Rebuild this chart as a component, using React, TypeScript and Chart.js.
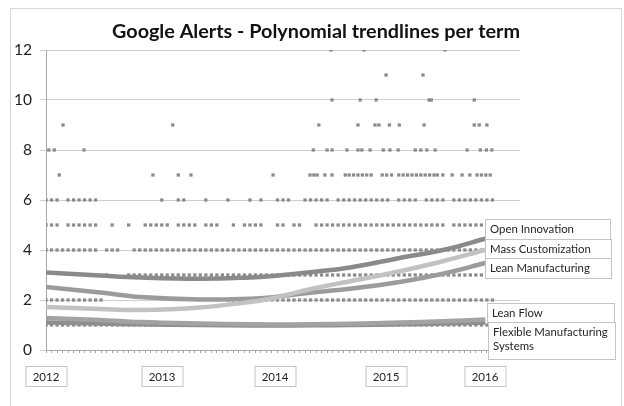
import { useEffect, useRef } from 'react';
import { Chart, registerables } from 'chart.js';

Chart.register(...registerables);

// ---- Data ----
const TITLE = 'Google Alerts - Polynomial trendlines per term';
const X_MIN = 0;
const X_MAX = 86;
const Y_MIN = 0;
const Y_MAX = 12;
const YEAR_LABELS = ['2012', '2013', '2014', '2015', '2016'];
const YEAR_POS = [0, 21.05, 41.6, 61.7, 79.7];
const TERMS = ['Open Innovation', 'Mass Customization', 'Lean Manufacturing', 'Lean Flow', 'Flexible Manufacturing Systems'];

// trendline readings (x = position along time axis)
const TREND_X = [0, 9.8, 17.1, 27.9, 37, 40.7, 48.3, 55.2, 64.2, 72, 79.7];
const OPEN_INNOVATION = [3.1, 2.98, 2.9, 2.85, 2.9, 2.95, 3.12, 3.3, 3.68, 4.0, 4.45];
const MASS_CUSTOMIZATION = [1.72, 1.64, 1.6, 1.7, 1.92, 2.05, 2.45, 2.75, 3.15, 3.55, 4.0];
const LEAN_MANUFACTURING = [2.52, 2.3, 2.12, 2.02, 2.05, 2.1, 2.3, 2.45, 2.72, 3.05, 3.48];
const LEAN_FLOW = [1.28, 1.2, 1.12, 1.06, 1.03, 1.02, 1.03, 1.05, 1.1, 1.15, 1.22];
const FLEXIBLE_MS = [1.1, 1.06, 1.03, 1.0, 0.98, 0.98, 0.99, 1.0, 1.03, 1.06, 1.1];

// alert counts: x positions of observations per count level
const LEVEL_1 = [0,1,2,3,4,5,6,7,8,9,10,11,12,13,14,15,16,17,18,19,20,21,22,23,24,25,26,27,28,29,30,31,32,33,34,35,36,37,38,39,40,41,42,43,44,45,46,47,48,49,50,51,52,53,54,55,56,57,58,59,60,61,62,63,64,65,66,67,68,69,70,71,72,73,74,75,76,77,78,79,80];
const LEVEL_2 = [0,1,2,3,4,5,6,7,8,9,10,33,34,35,36,37,38,39,40,41,42,43,44,45,46,47,48,49,50,51,52,53,54,55,56,57,58,59,60,61,62,63,64,65,66,67,68,69,70,71,72,73,74,75,76,77,78,79,80,81];
const LEVEL_3 = [11,15,16,17,18,19,20,21,22,23,24,25,26,27,28,29,30,31,32,33,34,35,36,37,38,39,40,41,42,43,44,45,46,47,48,49,50,51,52,53,54,55,56,57,58,59,60,61,62,63,64,65,66,67,68,69,70,71,72,73,74,75,76,77,78,79,80,81];
const LEVEL_4 = [0,1,2,3,4,5,6,7,8,9,11,12,13,16,17,18,19,20,21,22,23,24,25,26,27,28,29,30,31,32,33,34,35,36,37,38,39,40,41,42,43,44,45,46,47,48,49,50,51,52,53,54,55,56,57,58,59,60,61,62,63,64,65,66,67,68,69,70,71,72,73,74,75,76,77,78,79,80,81];
const LEVEL_5 = [0,1,2,4,5,6,7,8,9,12,15,18,19,20,21,22,24,25,26,27,29,30,31,34,36,37,38,39,42,43,45,46,49,50,51,52,53,54,55,56,57,58,59,60,61,62,63,64,65,66,67,68,69,70,71,72,74,75,76,77,78,79];
const LEVEL_6 = [0,1,2,4,5,6,7,8,9,21,24,25,29,33,37,39,42,43,44,47,48,49,50,51,53,54,55,56,57,58,59,60,61,62,64,65,66,67,69,70,71,72,74,75,76,77,78,79,80,81];
const LEVEL_7 = [2.4,19.4,24,26.3,41.2,47.9,48.6,49.2,50.6,51.9,54.3,55,55.8,56.6,57.4,58.2,59,61,61.8,62.7,64,64.8,65.6,66.4,67.2,68,68.8,69.6,70.4,71,72,73.7,75.5,76.9,78.2,79,79.8,80.6];
const LEVEL_8 = [0.5,1.5,6.9,48.5,51,51.9,54.6,56.6,57.3,58.8,61.2,62.4,63.9,67,68,69.1,70.6,76.4,78.8,79.9,80.9];
const LEVEL_9 = [3.1,23,49.5,56.6,59.7,60.4,62.3,64.1,68.6,77.7,78.6,80];
const LEVEL_10 = [51.9,57,59.9,69.5,69.9,77.7];
const LEVEL_11 = [61.7,68.4];
const LEVEL_12 = [51.7,57.7,72.4];

const LEVELS = [LEVEL_1, LEVEL_2, LEVEL_3, LEVEL_4, LEVEL_5, LEVEL_6, LEVEL_7, LEVEL_8, LEVEL_9, LEVEL_10, LEVEL_11, LEVEL_12];
const TRENDS = [OPEN_INNOVATION, MASS_CUSTOMIZATION, LEAN_MANUFACTURING, LEAN_FLOW, FLEXIBLE_MS];
const TREND_COLORS = ['#8a8a8a', '#c2c2c2', '#9b9b9b', '#a3a3a3', '#8e8e8e'];

const FONT = 'Lato, "Open Sans", sans-serif';

const decorPlugin = {
  id: 'decor',
  beforeDraw(chart: any) {
    const ctx = chart.ctx;
    ctx.save();
    ctx.fillStyle = '#ffffff';
    ctx.fillRect(0, 0, chart.width, chart.height);
    ctx.strokeStyle = '#d6d6d6';
    ctx.lineWidth = 1;
    ctx.strokeRect(10.5, 8.5, 611, 430);
    ctx.restore();
  },
  afterDraw(chart: any) {
    const ctx = chart.ctx;
    const xs = chart.scales.x;
    ctx.save();
    // title
    ctx.fillStyle = '#111';
    ctx.font = `bold 19.8px ${FONT}`;
    ctx.textAlign = 'center';
    ctx.textBaseline = 'middle';
    ctx.fillText(TITLE, 316, 32);

    // year boxes
    ctx.font = `11.5px ${FONT}`;
    YEAR_LABELS.forEach((lab, i) => {
      const cx = Math.round(xs.getPixelForValue(YEAR_POS[i]));
      const w = 41, h = 20, top = 366;
      ctx.fillStyle = '#fff';
      ctx.fillRect(cx - w / 2, top, w, h);
      ctx.strokeStyle = '#c4c4c4';
      ctx.strokeRect(cx - w / 2 + 0.5, top + 0.5, w, h);
      ctx.fillStyle = '#222';
      ctx.fillText(lab, cx, top + h / 2 + 1);
    });

    // trendline labels
    const boxes = [
      { x: 485, y: 219, w: 125, h: 20, lines: [TERMS[0]] },
      { x: 485, y: 239, w: 126, h: 19, lines: [TERMS[1]] },
      { x: 485, y: 258, w: 126, h: 20, lines: [TERMS[2]] },
      { x: 487, y: 303, w: 127, h: 19, lines: [TERMS[3]] },
      { x: 488, y: 322, w: 127, h: 37, lines: ['Flexible Manufacturing', 'Systems'] },
    ];
    ctx.font = `11.4px ${FONT}`;
    ctx.textAlign = 'left';
    boxes.forEach((b) => {
      ctx.fillStyle = '#fff';
      ctx.fillRect(b.x, b.y, b.w, b.h);
      ctx.strokeStyle = '#c4c4c4';
      ctx.strokeRect(b.x + 0.5, b.y + 0.5, b.w, b.h);
      ctx.fillStyle = '#262626';
      b.lines.forEach((t, k) => {
        ctx.fillText(t, b.x + 5, b.y + 10 + k * 14.5);
      });
    });
    ctx.restore();
  },
};

export default function App() {
  const ref = useRef<HTMLCanvasElement>(null);

  useEffect(() => {
    if (!ref.current) return;
    const trendSets = TRENDS.map((vals, i) => ({
      type: 'line' as const,
      label: TERMS[i],
      data: TREND_X.map((x, k) => ({ x, y: vals[k] })),
      borderColor: TREND_COLORS[i],
      borderWidth: 4.5,
      pointRadius: 0,
      tension: 0.4,
      fill: false,
      order: 0,
    }));
    const pointSets = LEVELS.map((xs, i) => ({
      type: 'scatter' as const,
      label: `count ${i + 1}`,
      data: xs.map((x) => ({ x, y: i + 1 })),
      pointStyle: 'rect',
      pointRadius: 2.3,
      pointBorderWidth: 0,
      backgroundColor: '#8a8a8a',
      borderColor: '#8a8a8a',
      order: 1,
    }));

    const chart = new Chart(ref.current, {
      type: 'scatter',
      data: { datasets: [...trendSets, ...pointSets] as any },
      options: {
        animation: false,
        responsive: false,
        events: [],
        layout: { padding: { left: 0, top: 50, right: 104, bottom: 0 } },
        plugins: { legend: { display: false }, title: { display: false }, tooltip: { enabled: false } },
        scales: {
          x: {
            type: 'linear',
            min: X_MIN,
            max: X_MAX,
            afterBuildTicks: (scale: any) => {
              const t = [];
              for (let v = X_MIN; v <= X_MAX; v++) t.push({ value: v });
              scale.ticks = t;
            },
            afterFit: (scale: any) => { scale.height = 56; },
            ticks: { display: false },
            grid: { drawOnChartArea: false, drawTicks: true, tickLength: 3, color: '#a8a8a8' },
            border: { display: true, color: '#a8a8a8' },
          },
          y: {
            type: 'linear',
            min: Y_MIN,
            max: Y_MAX,
            afterFit: (scale: any) => { scale.width = 46; },
            ticks: { stepSize: 2, color: '#222', font: { family: FONT, size: 15.5 }, padding: 8 },
            grid: { color: '#cfcfcf', tickLength: 6 },
            border: { display: true, color: '#a8a8a8' },
          },
        },
      },
      plugins: [decorPlugin],
    });
    return () => chart.destroy();
  }, []);

  return (
    <canvas
      ref={ref}
      width={624}
      height={406}
      style={{ position: 'absolute', left: 0, top: 0, width: 624, height: 406 }}
    />
  );
}
